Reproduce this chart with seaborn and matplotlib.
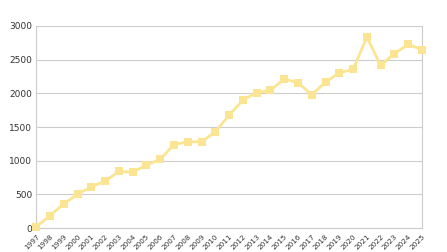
import matplotlib
matplotlib.use('Agg')
import matplotlib.pyplot as plt
import seaborn as sns
import pandas as pd

years = list(range(1997, 2026))
values = [20, 185, 360, 500, 615, 695, 840, 830, 935, 1020,
          1240, 1280, 1280, 1430, 1675, 1900, 2010, 2045, 2210, 2160,
          1980, 2165, 2305, 2355, 2835, 2415, 2590, 2725, 2650]

df = pd.DataFrame({'year': years, 'value': values})

sns.set_style('white')
fig = plt.figure(figsize=(4.47, 2.52), dpi=100)
ax = fig.add_axes([0.081, 0.095, 0.863, 0.802])

sns.lineplot(data=df, x='year', y='value', ax=ax, color='#fbe592',
             linewidth=2, marker='s', markersize=6, markeredgewidth=0,
             clip_on=False, zorder=3)

ax.set_xlim(1997, 2025)
ax.set_ylim(0, 3000)
ax.set_yticks(range(0, 3001, 500))
ax.set_xticks(years)
ax.set_xticklabels([str(y) for y in years], rotation=45, ha='right',
                   rotation_mode='anchor', fontsize=5.2, color='#333333')
ax.tick_params(axis='y', labelsize=6.5, colors='#333333', length=0, pad=3)
ax.tick_params(axis='x', length=3, width=0.6, color='#cccccc', pad=1)
ax.grid(axis='y', color='#cccccc', linewidth=0.8)
ax.set_axisbelow(True)
for side in ['left', 'right', 'bottom']:
    ax.spines[side].set_color('#cccccc')
    ax.spines[side].set_linewidth(0.8)
ax.spines['top'].set_visible(False)
ax.set_xlabel('')
ax.set_ylabel('')

fig.savefig('out.png', dpi=100)
